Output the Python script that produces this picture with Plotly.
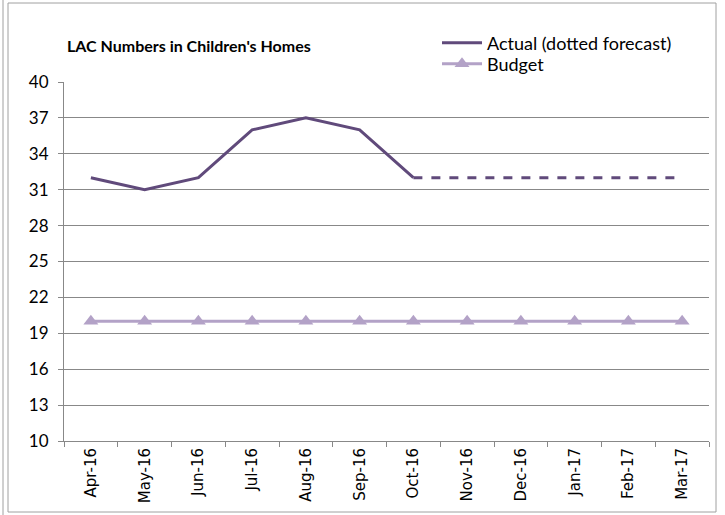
import plotly.graph_objects as go

months = ["Apr-16", "May-16", "Jun-16", "Jul-16", "Aug-16", "Sep-16",
          "Oct-16", "Nov-16", "Dec-16", "Jan-17", "Feb-17", "Mar-17"]
actual = [32, 31, 32, 36, 37, 36, 32, None, None, None, None, None]
forecast = [None, None, None, None, None, None, 32, 32, 32, 32, 32, 32]
budget = [20] * 12
y_ticks = [10, 13, 16, 19, 22, 25, 28, 31, 34, 37, 40]

ACT = "#604A7B"
BUD = "#B3A2C7"
GRID = "#888888"

W, H = 725, 515
L, R, T, B = 64, 709, 82, 441

def px(x):
    return (x - L) / (R - L)

def py(y):
    return (B - y) / (B - T)

fig = go.Figure()
fig.add_trace(go.Scatter(x=months, y=actual, mode="lines", name="Actual (dotted forecast)",
                         line=dict(color=ACT, width=3), legend="legend"))
fig.add_trace(go.Scatter(x=months, y=forecast, mode="lines", showlegend=False,
                         line=dict(color=ACT, width=3, dash="dash")))
fig.add_trace(go.Scatter(x=months, y=budget, mode="lines+markers", name="Budget",
                         line=dict(color=BUD, width=3), legend="legend2",
                         marker=dict(symbol="triangle-up", size=13, color=BUD)))

leg_common = dict(xanchor="left", yanchor="middle",
                  font=dict(family="Lato", size=18, color="black"),
                  bgcolor="rgba(0,0,0,0)", itemwidth=40)

fig.update_layout(
    width=W, height=H,
    margin=dict(l=L, r=W - R, t=T, b=H - B),
    paper_bgcolor="white", plot_bgcolor="white",
    font=dict(family="DejaVu Sans", size=12, color="black"),
    title=dict(text="<b>LAC Numbers in Children's Homes</b>",
               font=dict(family="Lato", size=16, color="black"),
               x=67 / W, xanchor="left", y=1 - 46 / H, yanchor="middle"),
    legend=dict(x=px(437), y=py(43), **leg_common),
    legend2=dict(x=px(437), y=py(64), **leg_common),
    showlegend=True,
)
fig.update_xaxes(type="category", range=[-0.5, 11.5], tickangle=-90,
                 showline=True, linecolor=GRID, linewidth=1,
                 ticks="outside", tickson="boundaries", ticklen=5, tickcolor=GRID,
                 showgrid=False, tickfont=dict(family="DejaVu Sans", size=15))
fig.update_yaxes(range=[10, 40], tickvals=y_ticks, showgrid=True, gridcolor=GRID, gridwidth=1,
                 showline=True, linecolor=GRID, linewidth=1, zeroline=False,
                 ticks="outside", ticklen=5, tickcolor=GRID, ticklabelstandoff=6,
                 tickfont=dict(family="Lato", size=17))

# outer frame
fig.add_shape(type="rect", xref="paper", yref="paper",
              x0=px(8), x1=px(716), y0=py(512), y1=py(3),
              line=dict(color="#A0A0A0", width=1), fillcolor="rgba(0,0,0,0)", layer="below")
fig.add_shape(type="line", xref="paper", yref="paper",
              x0=px(3), x1=px(3), y0=py(515), y1=py(0),
              line=dict(color="#A0A0A0", width=1))

fig.write_html("out.html")
